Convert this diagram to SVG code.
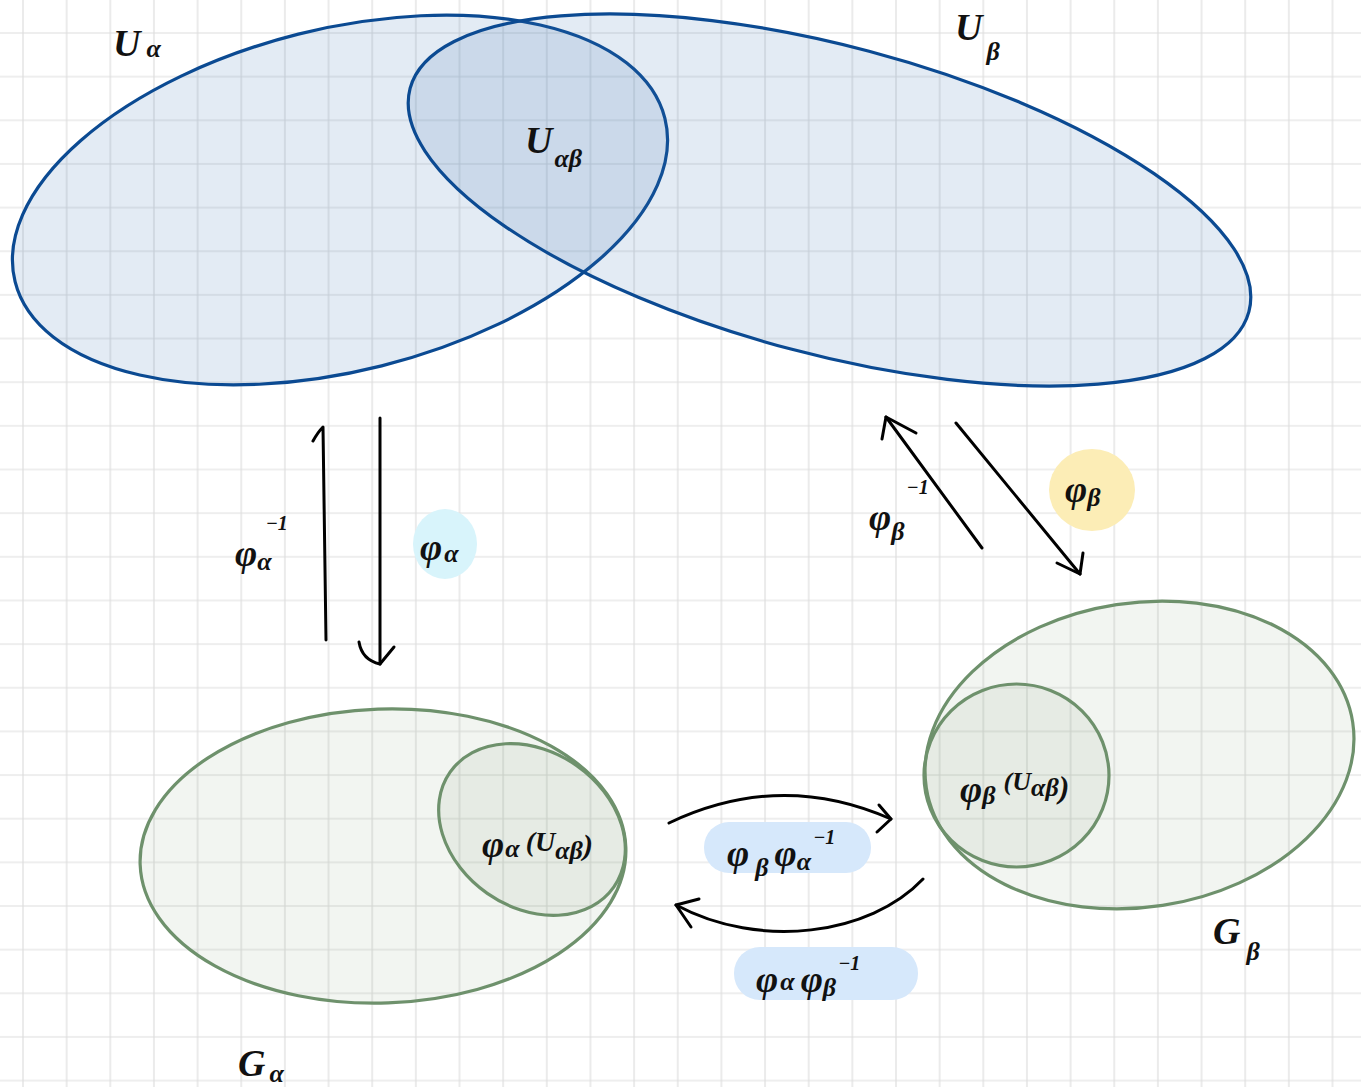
<svg xmlns="http://www.w3.org/2000/svg" width="1361" height="1087" viewBox="0 0 1361 1087">
<style>
.blue{fill:rgb(60,110,180);fill-opacity:0.14;stroke:#0b4a92;stroke-width:3.2}
.green{fill:rgb(110,140,100);fill-opacity:0.09;stroke:#6e916c;stroke-width:3.2}
.lbl{font-family:"Liberation Serif","DejaVu Serif",serif;font-style:italic;font-weight:bold;font-size:38px;fill:#111}
.sub{font-size:26px}
.sup{font-size:20px}
.arr{fill:none;stroke:#000;stroke-width:3;stroke-linecap:round;stroke-linejoin:round}
</style>
<defs>
<pattern id="grid" patternUnits="userSpaceOnUse" x="1.175" y="11.175" width="43.65" height="43.65">
<path d="M21.825 0V43.65M0 21.825H43.65" stroke="#dedede" stroke-width="1.2" fill="none"/>
</pattern>
</defs>
<rect width="1361" height="1087" fill="#fff"/>
<rect width="1361" height="1087" fill="url(#grid)"/>

<g id="highlights">
<ellipse cx="445" cy="544" rx="32" ry="35" fill="#d8f4fb"/>
<ellipse cx="1092" cy="490" rx="43" ry="41" fill="#fcedb6"/>
<rect x="704" y="822" width="167" height="51" rx="25" fill="#d6e8fb"/>
<rect x="734" y="947" width="184" height="53" rx="26" fill="#d6e8fb"/>
</g>

<g id="U_alpha">
<ellipse class="blue" cx="340" cy="200" rx="335" ry="171" transform="rotate(-14.1 340 200)"/>
<text class="lbl" x="113" y="56">U<tspan class="sub" dx="6" dy="1">α</tspan></text>
</g>
<g id="U_beta">
<ellipse class="blue" cx="829.5" cy="200" rx="434" ry="154" transform="rotate(14.9 829.5 200)"/>
<text class="lbl" x="955" y="40">U<tspan class="sub" dx="4" dy="20">β</tspan></text>
</g>
<g id="U_alphabeta">
<text class="lbl" x="525" y="153">U<tspan class="sub" dx="2" dy="14">αβ</tspan></text>
</g>

<g id="G_alpha">
<ellipse class="green" cx="383" cy="856" rx="243" ry="147" transform="rotate(-2 383 856)"/>
<text class="lbl" x="238" y="1076">G<tspan class="sub" dx="4" dy="6">α</tspan></text>
</g>
<g id="phi_alpha_U">
<ellipse class="green" cx="532" cy="829.5" rx="100" ry="78" transform="rotate(35 532 829.5)"/>
<text class="lbl" x="482" y="857">φ<tspan class="sub" dx="1" dy="0">α</tspan><tspan dx="6" dy="-6" font-size="28">(U</tspan><tspan class="sub" dx="0" dy="8">αβ</tspan><tspan font-size="30" dy="-4">)</tspan></text>
</g>

<g id="G_beta">
<ellipse class="green" cx="1139.5" cy="755" rx="215.7" ry="152.2" transform="rotate(-8.7 1139.5 755)"/>
<text class="lbl" x="1213" y="944">G<tspan class="sub" dx="6" dy="16">β</tspan></text>
</g>
<g id="phi_beta_U">
<ellipse class="green" cx="1016.5" cy="775.5" rx="92.5" ry="91.5"/>
<text class="lbl" x="960" y="802">φ<tspan class="sub" dx="0" dy="2">β</tspan><tspan font-size="26" dx="8" dy="-14">(U</tspan><tspan class="sub" dy="6">αβ</tspan><tspan font-size="32" dy="2">)</tspan></text>
</g>

<g id="connectors">
<path class="arr" d="M313 441Q318 432 323 427L326 640"/>
<path class="arr" d="M380 418L380 664"/>
<path class="arr" d="M359 642Q362 660 380 664L394 647"/>
<path class="arr" d="M886 417L982 548"/>
<path class="arr" d="M882 439L886 417L916 433"/>
<path class="arr" d="M956 423L1080 574"/>
<path class="arr" d="M1057 563L1080 574L1083 553"/>
<path class="arr" d="M669 823Q780 770 891 819"/>
<path class="arr" d="M879 805L891 819L877 832"/>
<path class="arr" d="M923 879C870 935 760 950 676 905"/>
<path class="arr" d="M699 899L676 905L691 927"/>
</g>

<g id="labels">
<text class="lbl" x="235" y="566">φ<tspan class="sub" dx="0" dy="4">α</tspan><tspan class="sup" dx="-6" dy="-40">−1</tspan></text>
<text class="lbl" x="420" y="560">φ<tspan class="sub" dx="2" dy="2">α</tspan></text>
<text class="lbl" x="869" y="530">φ<tspan class="sub" dx="0" dy="10">β</tspan><tspan class="sup" dx="2" dy="-46">−1</tspan></text>
<text class="lbl" x="1065" y="502" font-size="42">φ<tspan class="sub" font-size="30" dx="0" dy="4">β</tspan></text>
<text class="lbl" x="727" y="866">φ<tspan class="sub" dx="6" dy="10">β</tspan><tspan dx="6" dy="-10">φ</tspan><tspan class="sub" dy="4">α</tspan><tspan class="sup" dx="2" dy="-26">−1</tspan></text>
<text class="lbl" x="756" y="992">φ<tspan class="sub" dx="2" dy="-2">α</tspan><tspan dx="6" dy="2">φ</tspan><tspan class="sub" dy="4">β</tspan><tspan class="sup" dx="2" dy="-26">−1</tspan></text>
</g>
</svg>
